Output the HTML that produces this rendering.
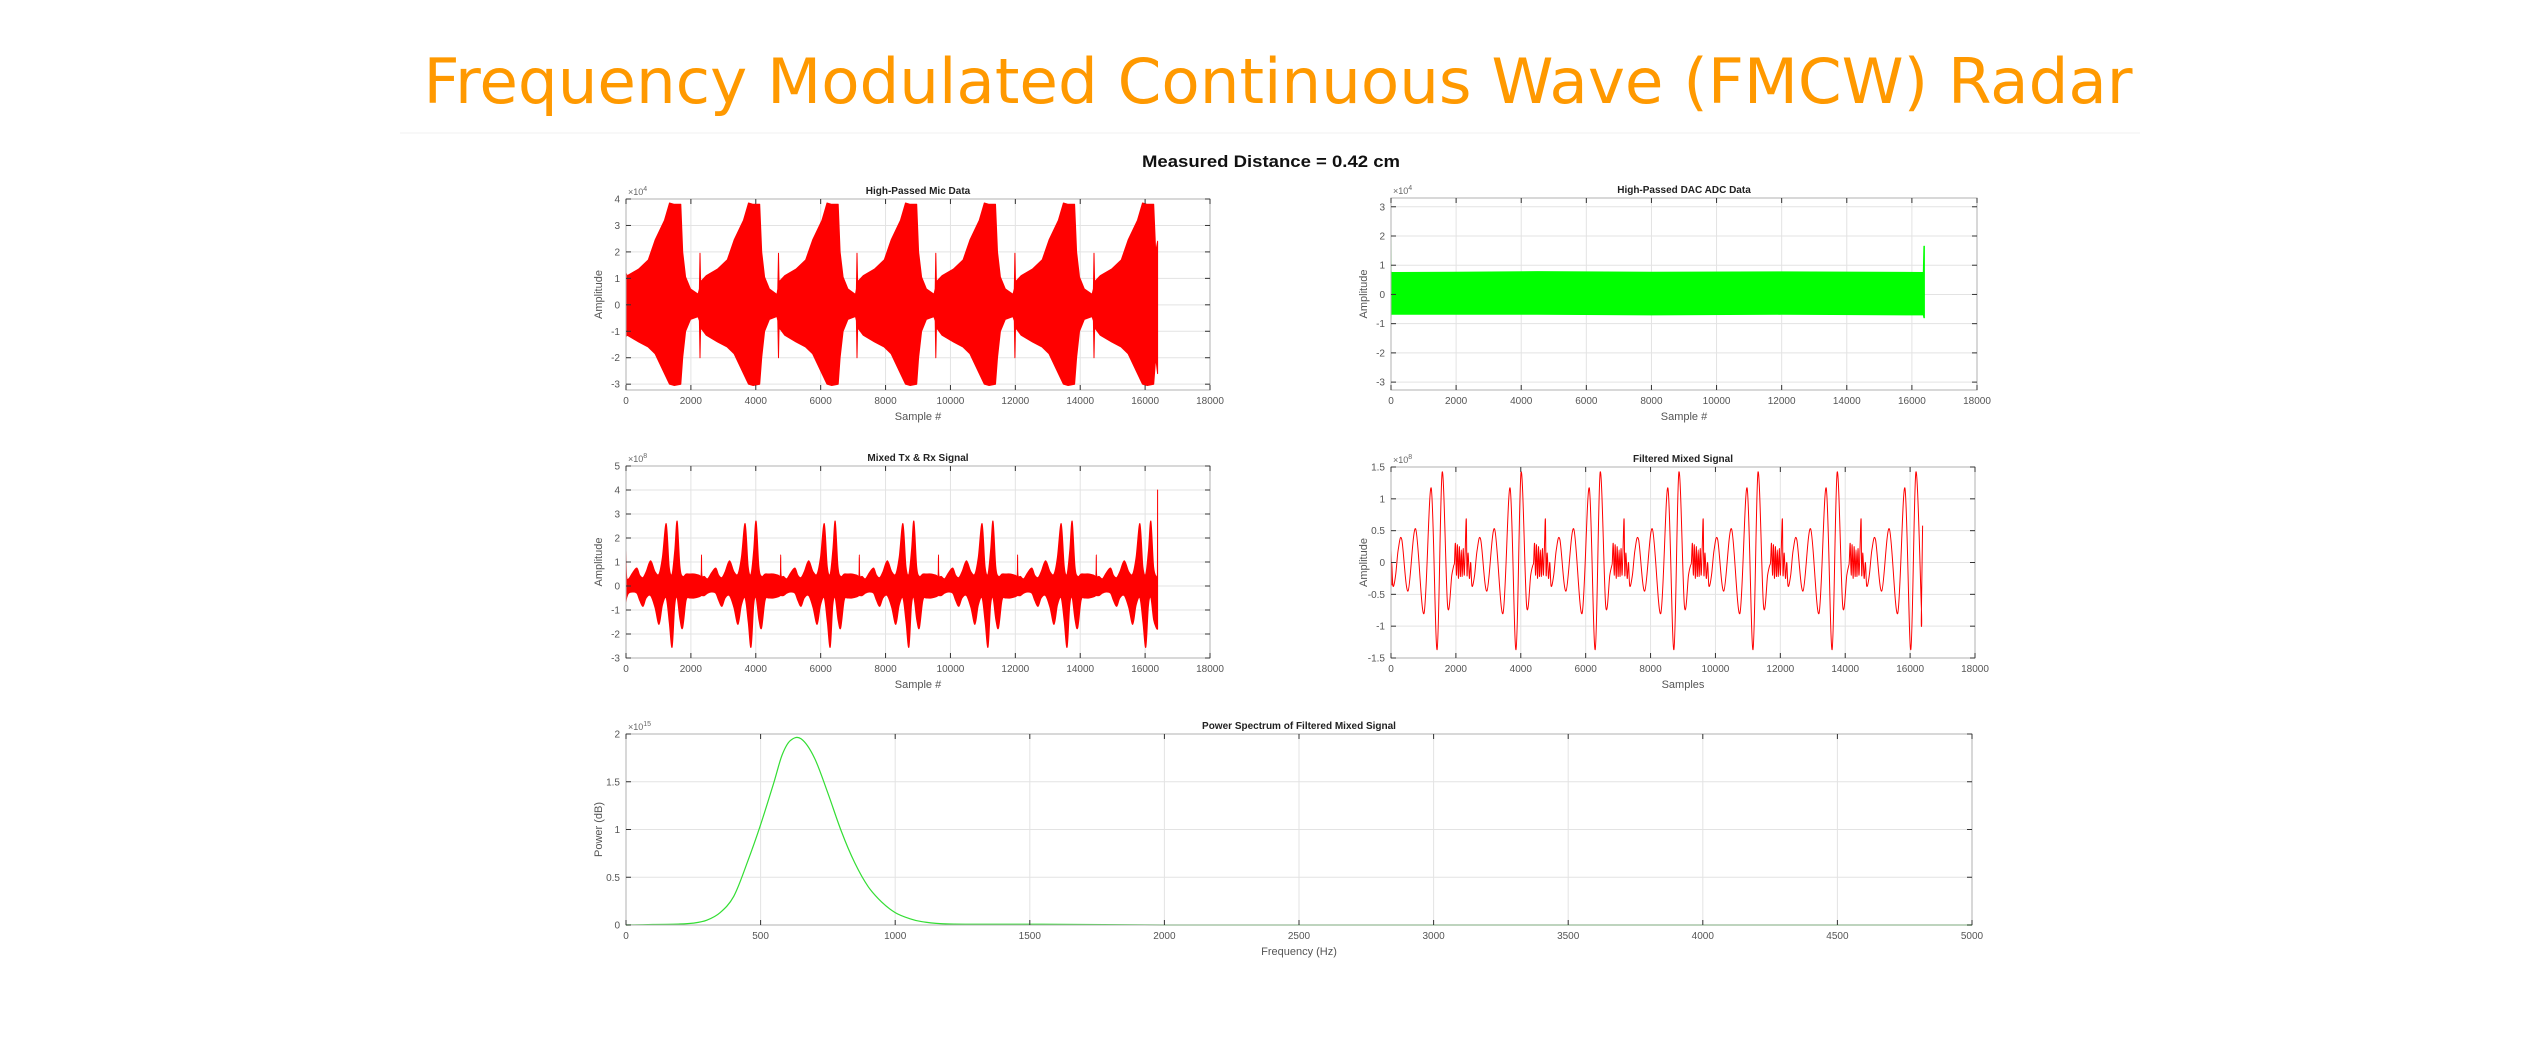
<!DOCTYPE html>
<html><head><meta charset="utf-8"><style>
html,body{margin:0;padding:0;background:#fff;}
svg{display:block;}
text{font-family:"Liberation Sans",Arial,sans-serif;}
</style></head>
<body>
<svg id="fig" width="2538" height="1045" viewBox="0 0 2538 1045" xmlns="http://www.w3.org/2000/svg">
<rect x="0" y="0" width="2538" height="1045" fill="#fff"/>
<text x="1278" y="103" text-anchor="middle" font-size="62" fill="#FF9900" textLength="1709" lengthAdjust="spacingAndGlyphs" style="font-family:'DejaVu Sans','Liberation Sans',sans-serif">Frequency Modulated Continuous Wave (FMCW) Radar</text>
<line x1="400" y1="133" x2="2140" y2="133" stroke="#f2f2f2" stroke-width="1"/>
<text x="1271" y="167" text-anchor="middle" font-size="17" font-weight="bold" fill="#111" textLength="258" lengthAdjust="spacingAndGlyphs">Measured Distance = 0.42 cm</text>
<g id="plots"></g>
</svg>
<script>
// ---------- data ----------
const DATA_LEN = 16384;
const micChirpStarts = [-212, 2221, 4640, 7060, 9490, 11927, 14366];
const mixChirpStarts = [-477, 1956, 4395, 6820, 9259, 11698, 14123];
// High-passed mic envelope template (offset, upper/lower x1e4)
const micOffsets = [0, 40, 60, 80, 100, 250, 600, 900, 1110, 1400, 1554, 1700, 1900, 1960, 2050, 2200, 2433];
const micUpper   = [0.4, 0.6, 1.95, 0.7, 0.9, 1.1, 1.35, 1.7, 2.45, 3.2, 3.85, 3.8, 3.8, 2.0, 1.05, 0.6, 0.4];
const micLower   = [-0.45, -0.6, -2.0, -0.7, -0.9, -1.15, -1.4, -1.6, -1.85, -2.6, -3.0, -3.05, -3.0, -2.0, -1.0, -0.55, -0.45];
const micEdge    = [1.2, -1.2, 2.4, -2.6];
// DAC ADC band (x1e4)
const dacBandX = [0, 4, 8, 2000, 4500, 8000, 12000, 16350, 16370, 16384];
const dacUpper = [2.1, 0.8, 0.75, 0.76, 0.78, 0.76, 0.77, 0.75, 1.65, 1.65];
const dacLower = [-0.9, -0.7, -0.68, -0.68, -0.68, -0.7, -0.68, -0.7, -0.8, -0.8];
// Mixed Tx&Rx envelope template (x1e8)
const mixOffsets = [0, 150, 300, 360, 372, 384, 460, 560, 680, 810, 900, 1000, 1100, 1235, 1370, 1495, 1600, 1716, 1810, 1898, 1980, 2054, 2140, 2223, 2330, 2433];
const mixUpper   = [0.5, 0.5, 0.45, 0.45, 1.3, 0.45, 0.4, 0.3, 0.55, 0.75, 0.45, 0.35, 0.6, 1.05, 0.6, 0.5, 1.2, 2.6, 0.8, 0.5, 1.5, 2.7, 0.8, 0.4, 0.5, 0.5];
const mixLower   = [-0.5, -0.5, -0.45, -0.4, -0.4, -0.4, -0.4, -0.3, -0.25, -0.3, -0.6, -0.85, -0.5, -0.4, -0.9, -1.6, -0.8, -0.5, -1.5, -2.55, -0.8, -0.5, -1.4, -1.75, -0.6, -0.5];
const mixEdge    = [1.5, -0.7, 4.0, -1.8];
// Filtered mixed signal template (offset, value x1e8)
const filtOffsets = [0, 30, 60, 90, 120, 150, 180, 210, 240, 270, 300, 330, 365, 385, 420, 460, 500, 540, 620, 700, 810, 1000, 1235, 1495, 1716, 1898, 2054, 2223, 2350, 2410];
const filtValues  = [0.0, 0.3, -0.2, 0.28, -0.25, 0.25, -0.22, 0.2, -0.22, 0.22, -0.2, 0.18, 0.68, -0.2, 0.15, -0.25, 0.0, -0.37, -0.2, 0.2, 0.36, -0.45, 0.53, -0.8, 1.17, -1.37, 1.42, -0.68, -0.2, -0.05];
const filtEdge = [0.2, -0.35, -0.87, 0.58];
// Power spectrum
const specFreq  = [0, 100, 200, 250, 300, 350, 400, 450, 500, 550, 580, 610, 650, 700, 750, 800, 850, 900, 950, 1000, 1050, 1100, 1200, 1500, 2000, 3000, 4000, 5000];
const specPower = [0.0, 0.005, 0.01, 0.02, 0.05, 0.13, 0.3, 0.65, 1.05, 1.5, 1.78, 1.93, 1.95, 1.75, 1.38, 0.98, 0.65, 0.4, 0.24, 0.13, 0.07, 0.035, 0.01, 0.008, 0.0, 0.0, 0.0, 0.0];
// ticks
const sampleTicks = [0, 2000, 4000, 6000, 8000, 10000, 12000, 14000, 16000, 18000];
const micYTicks = [-3, -2, -1, 0, 1, 2, 3, 4];
const dacYTicks = [-3, -2, -1, 0, 1, 2, 3];
const mixYTicks = [-3, -2, -1, 0, 1, 2, 3, 4, 5];
const filtYTicks = [-1.5, -1, -0.5, 0, 0.5, 1, 1.5];
const freqTicks = [0, 500, 1000, 1500, 2000, 2500, 3000, 3500, 4000, 4500, 5000];
const powerYTicks = [0, 0.5, 1, 1.5, 2];

const NS = "http://www.w3.org/2000/svg";
const root = document.getElementById('plots');
function mk(tag, attrs, parent) {
  const e = document.createElementNS(NS, tag);
  for (const k in attrs) e.setAttribute(k, attrs[k]);
  (parent || root).appendChild(e);
  return e;
}

function axes(cfg) {
  const g = mk('g', {});
  
  
  const sx = v => cfg.x0 + (v - cfg.xmin) / (cfg.xmax - cfg.xmin) * (cfg.x1 - cfg.x0);
  const sy = v => cfg.y1 - (v - cfg.ymin) / (cfg.ymax - cfg.ymin) * (cfg.y1 - cfg.y0);
  cfg.xticks.forEach(t => {
    const l = mk('line', {x1: sx(t), x2: sx(t), y1: cfg.y0, y2: cfg.y1, stroke: '#e3e3e3', 'stroke-width': 1}, g);
    
    
  });
  cfg.yticks.forEach(t => {
    const l = mk('line', {x1: cfg.x0, x2: cfg.x1, y1: sy(t), y2: sy(t), stroke: '#e3e3e3', 'stroke-width': 1}, g);
    
    
  });
  cfg.sx = sx; cfg.sy = sy; cfg.g = g;
  return cfg;
}
function finishAxes(cfg) {
  const g = cfg.g, sx = cfg.sx, sy = cfg.sy;
  const box = mk('rect', {x: cfg.x0, y: cfg.y0, width: cfg.x1 - cfg.x0, height: cfg.y1 - cfg.y0, fill: 'none', stroke: '#b0b0b0', 'stroke-width': 1}, g);
  
  
  cfg.xticks.forEach(t => {
    mk('line', {x1: sx(t), x2: sx(t), y1: cfg.y1, y2: cfg.y1 - 5, stroke: '#333', 'stroke-width': 1}, g);
    mk('line', {x1: sx(t), x2: sx(t), y1: cfg.y0, y2: cfg.y0 + 5, stroke: '#333', 'stroke-width': 1}, g);
    const tx = mk('text', {x: sx(t), y: cfg.y1 + 14, 'text-anchor': 'middle', 'font-size': 10, fill: '#555'}, g);
    tx.textContent = t;
    
    
  });
  cfg.yticks.forEach(t => {
    mk('line', {x1: cfg.x0, x2: cfg.x0 + 5, y1: sy(t), y2: sy(t), stroke: '#333', 'stroke-width': 1}, g);
    mk('line', {x1: cfg.x1, x2: cfg.x1 - 5, y1: sy(t), y2: sy(t), stroke: '#333', 'stroke-width': 1}, g);
    const ty = mk('text', {x: cfg.x0 - 6, y: sy(t) + 3.5, 'text-anchor': 'end', 'font-size': 10, fill: '#555'}, g);
    ty.textContent = t;
    
    
  });
  const ti = mk('text', {x: (cfg.x0 + cfg.x1) / 2, y: cfg.y0 - 5, 'text-anchor': 'middle', 'font-size': 10, 'font-weight': 'bold', fill: '#222'}, g);
  ti.textContent = cfg.title;
  
  
  const xl = mk('text', {x: (cfg.x0 + cfg.x1) / 2, y: cfg.y1 + 30, 'text-anchor': 'middle', 'font-size': 11, fill: '#555'}, g);
  xl.textContent = cfg.xlabel;
  
  
  const yc = (cfg.y0 + cfg.y1) / 2;
  const yl = mk('text', {x: cfg.x0 - 24, y: yc, 'text-anchor': 'middle', 'font-size': 11, fill: '#555', transform: 'rotate(-90 ' + (cfg.x0 - 24) + ' ' + yc + ')'}, g);
  yl.textContent = cfg.ylabel;
  
  
  const ex = mk('text', {x: cfg.x0 + 2, y: cfg.y0 - 4, 'font-size': 9, fill: '#666'}, g);
  ex.textContent = '\u00d710';
  const sup = mk('tspan', {dy: -4, 'font-size': 7}, ex);
  sup.textContent = cfg.exp;
  
  
}

function tiled(starts, offs, vals) {
  const pts = [];
  starts.forEach(s => offs.forEach((o, i) => {
    const x = s + o;
    if (x > 0 && x < DATA_LEN) pts.push([x, vals[i]]);
  }));
  pts.sort((a, b) => a[0] - b[0]);
  return pts;
}
// Catmull-Rom smoothing -> path segments (after the initial point)
function smoothSeg(px) {
  let d = '';
  for (let i = 0; i < px.length - 1; i++) {
    const p0 = px[Math.max(0, i - 1)], p1 = px[i], p2 = px[i + 1], p3 = px[Math.min(px.length - 1, i + 2)];
    const c1x = p1[0] + (p2[0] - p0[0]) / 6, c1y = p1[1] + (p2[1] - p0[1]) / 6;
    const c2x = p2[0] - (p3[0] - p1[0]) / 6, c2y = p2[1] - (p3[1] - p1[1]) / 6;
    d += 'C' + c1x.toFixed(1) + ',' + c1y.toFixed(1) + ' ' + c2x.toFixed(1) + ',' + c2y.toFixed(1) + ' ' + p2[0].toFixed(1) + ',' + p2[1].toFixed(1);
  }
  return d;
}
function toPx(cfg, pts) { return pts.map(p => [cfg.sx(p[0]), cfg.sy(p[1])]); }
function band(cfg, upper, lower, color, name, smooth) {
  const up = toPx(cfg, upper), lo = toPx(cfg, lower).reverse();
  let d;
  if (smooth) {
    d = 'M' + up[0][0].toFixed(1) + ',' + up[0][1].toFixed(1) + smoothSeg(up) +
        'L' + lo[0][0].toFixed(1) + ',' + lo[0][1].toFixed(1) + smoothSeg(lo) + 'Z';
  } else {
    d = up.concat(lo).map((p, i) => (i ? 'L' : 'M') + p[0].toFixed(1) + ',' + p[1].toFixed(1)).join('') + 'Z';
  }
  const path = mk('path', {d: d, fill: color, stroke: color, 'stroke-width': 1, 'stroke-linejoin': 'round'}, cfg.g);
  
  
}
function line(cfg, pts, color, w, name) {
  const px = toPx(cfg, pts);
  const d = 'M' + px[0][0].toFixed(1) + ',' + px[0][1].toFixed(1) + smoothSeg(px);
  const path = mk('path', {d: d, fill: 'none', stroke: color, 'stroke-width': w, 'stroke-linejoin': 'round'}, cfg.g);
  
  
}

// ---- Plot 1: mic ----
const p1 = axes({name: 'mic-data-plot', x0: 626, x1: 1210, y0: 199, y1: 390, xmin: 0, xmax: 18000, ymin: -3.22, ymax: 4, xticks: sampleTicks, yticks: micYTicks, title: 'High-Passed Mic Data', xlabel: 'Sample #', ylabel: 'Amplitude', exp: '4'});
{
  const up = [[0, micEdge[0]]].concat(tiled(micChirpStarts, micOffsets, micUpper), [[DATA_LEN, micEdge[2]]]);
  const lo = [[0, micEdge[1]]].concat(tiled(micChirpStarts, micOffsets, micLower), [[DATA_LEN, micEdge[3]]]);
  band(p1, up, lo, '#ff0000', 'mic-signal', false);
}
finishAxes(p1);

// ---- Plot 2: DAC ADC ----
const p2 = axes({name: 'dac-adc-plot', x0: 1391, x1: 1977, y0: 198, y1: 390, xmin: 0, xmax: 18000, ymin: -3.27, ymax: 3.3, xticks: sampleTicks, yticks: dacYTicks, title: 'High-Passed DAC ADC Data', xlabel: 'Sample #', ylabel: 'Amplitude', exp: '4'});
band(p2, dacBandX.map((x, i) => [x, dacUpper[i]]), dacBandX.map((x, i) => [x, dacLower[i]]), '#00ff00', 'dac-adc-signal', false);
finishAxes(p2);

// ---- Plot 3: Mixed ----
const p3 = axes({name: 'mixed-signal-plot', x0: 626, x1: 1210, y0: 466, y1: 658, xmin: 0, xmax: 18000, ymin: -3, ymax: 5, xticks: sampleTicks, yticks: mixYTicks, title: 'Mixed Tx & Rx Signal', xlabel: 'Sample #', ylabel: 'Amplitude', exp: '8'});
{
  const up = [[0, mixEdge[0]], [20, 0.4]].concat(tiled(mixChirpStarts, mixOffsets, mixUpper), [[DATA_LEN - 5, 0.5], [DATA_LEN, mixEdge[2]]]);
  const lo = [[0, mixEdge[1]], [20, -0.5]].concat(tiled(mixChirpStarts, mixOffsets, mixLower), [[DATA_LEN - 5, mixEdge[3]], [DATA_LEN, mixEdge[3]]]);
  band(p3, up, lo, '#ff0000', 'mixed-signal', true);
}
finishAxes(p3);

// ---- Plot 4: Filtered ----
const p4 = axes({name: 'filtered-signal-plot', x0: 1391, x1: 1975, y0: 467, y1: 658, xmin: 0, xmax: 18000, ymin: -1.5, ymax: 1.5, xticks: sampleTicks, yticks: filtYTicks, title: 'Filtered Mixed Signal', xlabel: 'Samples', ylabel: 'Amplitude', exp: '8'});
{
  const pts = [[0, filtEdge[0]], [30, filtEdge[1]]].concat(tiled(mixChirpStarts, filtOffsets, filtValues), [[DATA_LEN - 40, filtEdge[2]], [DATA_LEN, filtEdge[3]]]);
  line(p4, pts, '#ff0000', 1, 'filtered-signal');
}
finishAxes(p4);

// ---- Plot 5: Spectrum ----
const p5 = axes({name: 'power-spectrum-plot', x0: 626, x1: 1972, y0: 734, y1: 925, xmin: 0, xmax: 5000, ymin: 0, ymax: 2, xticks: freqTicks, yticks: powerYTicks, title: 'Power Spectrum of Filtered Mixed Signal', xlabel: 'Frequency (Hz)', ylabel: 'Power (dB)', exp: '15'});
line(p5, specFreq.map((f, i) => [f, specPower[i]]), '#33dd33', 1.2, 'power-spectrum-line');
finishAxes(p5);
</script>
</body></html>
